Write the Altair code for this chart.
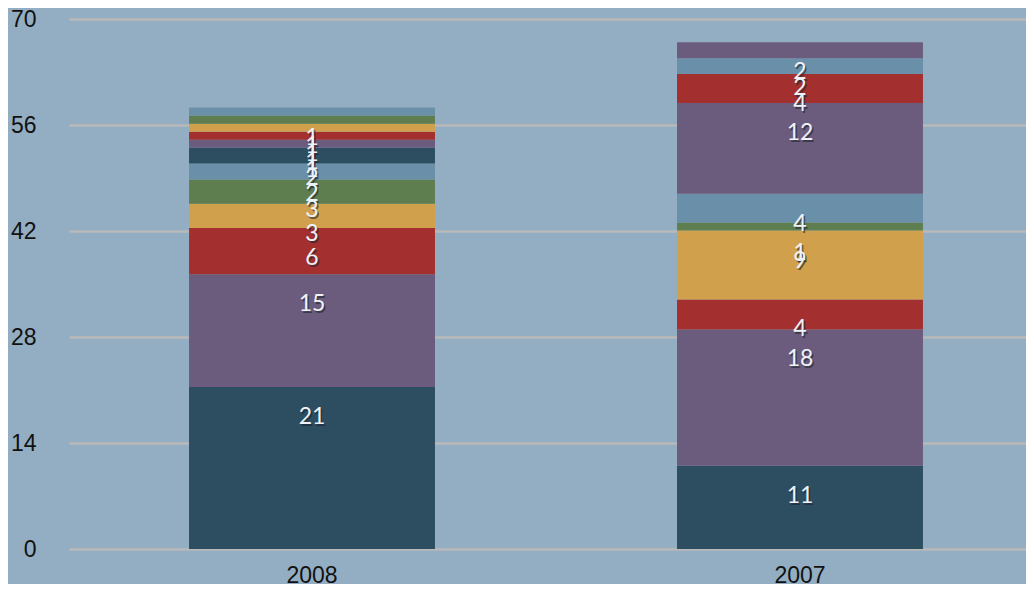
import altair as alt
import pandas as pd

# Data (bottom segment first)
years_2008 = ["2008"] * 12
kinds_2008 = ["teal", "purple", "red", "yellow", "green", "bluegray",
              "teal", "purple", "red", "yellow", "green", "bluegray"]
values_2008 = [21.4, 14.9, 6.1, 3.2, 3.2, 2.1, 2.1, 1.06, 1.06, 1.06, 1.06, 1.06]

years_2007 = ["2007"] * 10
kinds_2007 = ["teal", "purple", "red", "yellow", "green", "bluegray",
              "purple", "red", "bluegray", "purple"]
values_2007 = [11.0, 18.0, 3.96, 9.1, 1.06, 3.8, 12.0, 3.8, 2.1, 2.1]

year_order = ["2008", "2007"]
y_ticks = [0, 14, 28, 42, 56, 70]

color_domain = ["teal", "purple", "red", "yellow", "green", "bluegray"]
color_range = ["#2d4d60", "#6b5b7c", "#a3302f", "#d1a04c", "#5f7e50", "#6a8fa8"]

df = pd.DataFrame({
    "year": years_2008 + years_2007,
    "kind": kinds_2008 + kinds_2007,
    "value": values_2008 + values_2007,
    "idx": list(range(len(values_2008))) + list(range(len(values_2007))),
})

base = alt.Chart(df).transform_stack(
    stack="value", groupby=["year"], as_=["y0", "y1"],
    sort=[alt.SortField("idx", order="ascending")],
).transform_calculate(label="round(datum.value)")

x_enc = alt.X("year:N", sort=year_order, title=None,
              scale=alt.Scale(range=[0, 974], paddingInner=0.496, paddingOuter=0.246),
              axis=alt.Axis(labelAngle=0, domain=False, ticks=False, grid=False,
                            labelFontSize=23, labelFont="Liberation Sans",
                            labelColor="#111111", labelPadding=15))
y_scale = alt.Scale(domain=[0, 70], nice=False)

bars = base.mark_bar().encode(
    x=x_enc,
    y=alt.Y("y0:Q", scale=y_scale, title=None,
            axis=alt.Axis(values=y_ticks, domain=False, ticks=False,
                          gridColor="#b9b9b9", gridWidth=2.5,
                          labelFontSize=23, labelFont="Liberation Sans",
                          labelColor="#111111", labelPadding=33)),
    y2="y1:Q",
    color=alt.Color("kind:N", scale=alt.Scale(domain=color_domain, range=color_range),
                    legend=None),
)

shadow = base.mark_text(fontSize=23, font="Lato", color="#1a2530", opacity=0.6,
                        dx=1.5, dy=32).encode(
    x=alt.X("year:N", sort=year_order),
    y=alt.Y("y1:Q", scale=y_scale),
    text="label:Q",
)

labels = base.mark_text(fontSize=23, font="Lato", color="#eef2f7",
                        dy=30).encode(
    x=alt.X("year:N", sort=year_order),
    y=alt.Y("y1:Q", scale=y_scale),
    text="label:Q",
)

chart = alt.layer(bars, shadow, labels).properties(
    width=957, height=530,
    autosize=alt.AutoSizeParams(type="none"),
    padding={"left": 61, "top": 11, "right": 0, "bottom": 35},
    background="#93aec2",
).configure_view(stroke=None)

chart.save("out.html", embed_options={"renderer": "svg", "actions": False})
